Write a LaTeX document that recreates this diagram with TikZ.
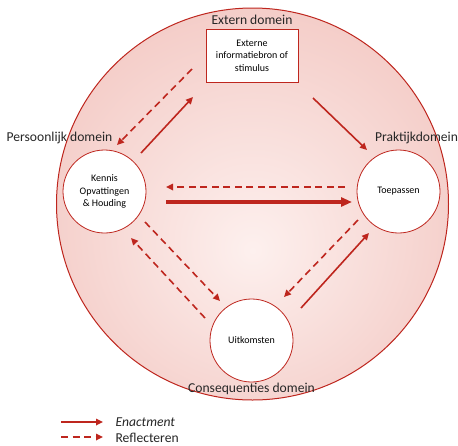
\documentclass[tikz,border=0pt]{standalone}
\usepackage{fontspec}
\setmainfont{Carlito}
\usetikzlibrary{arrows.meta}
\definecolor{domrood}{RGB}{190,38,30}
\definecolor{domroze}{RGB}{232,150,140}
\definecolor{domlicht}{RGB}{253,240,238}
\pgfdeclareradialshading{domein}{\pgfpoint{0bp}{-6bp}}{color(0bp)=(domlicht);color(30bp)=(domroze!50!white);color(50bp)=(domroze)}
\tikzset{
  bol/.style={circle,draw=domrood,line width=0.8pt,fill=white,minimum size=83pt,inner sep=0pt,align=center,font=\fontsize{10}{12.5}\selectfont},
  domtekst/.style={font=\fontsize{13.6}{15}\selectfont,text=black!85},
  pijl/.style={domrood,line width=1.6pt,-{Triangle[length=7pt,width=6.5pt]}},
  terug/.style={pijl,dash pattern=on 7pt off 4.5pt},
}
\begin{document}
\begin{tikzpicture}[x=1pt,y=-1pt]
  \useasboundingbox (0,0) rectangle (458,445);
  \node[circle,minimum size=392pt,inner sep=0pt,shading=domein,draw=domrood,line width=1pt] (groot) at (252.5,204) {};
  \node[rectangle,draw=domrood,line width=0.8pt,fill=white,minimum width=92pt,minimum height=53pt,align=center,font=\fontsize{10}{12.5}\selectfont] (bron) at (252,55.5) {Externe\\informatiebron of\\stimulus};
  \node[bol] (kennis) at (104.5,191.5) {Kennis\\Opvattingen\\\& Houding};
  \node[bol] (toepassen) at (398.5,191.5) {Toepassen};
  \node[bol] (uitkomsten) at (251.5,340.5) {Uitkomsten};
  \node[domtekst] (extern) at (252,20) {Extern domein};
  \node[domtekst] (persoonlijk) at (59.5,138) {Persoonlijk domein};
  \node[domtekst] (praktijk) at (416.5,138) {Praktijkdomein};
  \node[domtekst] (gevolg) at (251.5,389) {Consequenties domein};
  % pijlen
  \path (192,69) coordinate (b1) (117,145) coordinate (k1)
        (141,153) coordinate (k2) (193,97) coordinate (b2)
        (313,98) coordinate (b3) (367,150) coordinate (t1)
        (345,187) coordinate (t2) (166,187) coordinate (k3)
        (166,202) coordinate (k4) (352,202) coordinate (t3)
        (145,222) coordinate (k5) (220,301) coordinate (u1)
        (205,318) coordinate (u2) (131,238) coordinate (k6)
        (358,220) coordinate (t4) (284,297) coordinate (u3)
        (301,308) coordinate (u4) (369,233) coordinate (t5);
  \draw[terug] (b1)--(k1);
  \draw[pijl] (k2)--(b2);
  \draw[pijl] (b3)--(t1);
  \draw[terug] (t2)--(k3);
  \draw[domrood,line width=3.2pt,-{Triangle[length=11pt,width=9pt]}] (k4)--(t3);
  \draw[terug] (k5)--(u1);
  \draw[terug] (u2)--(k6);
  \draw[terug] (t4)--(u3);
  \draw[pijl] (u4)--(t5);
  % legenda
  \path (61,422) coordinate (l1) (103,422) coordinate (l2)
        (61,437) coordinate (l3) (103,437) coordinate (l4);
  \draw[pijl] (l1)--(l2);
  \draw[terug] (l3)--(l4);
  \node[domtekst,anchor=west,inner ysep=1pt] (enact) at (112,422) {\itshape Enactment};
  \node[domtekst,anchor=west,inner ysep=1pt] (refl) at (112,437.5) {Reflecteren};
\end{tikzpicture}
\end{document}
